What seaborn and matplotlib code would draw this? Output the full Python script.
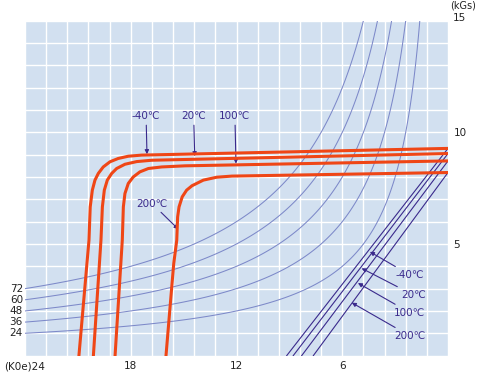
import numpy as np
import pandas as pd
import matplotlib.pyplot as plt
import seaborn as sns

# demagnetization curves, H in kOe (axis runs 24 -> 0), B in kGs
temps = ['-40℃', '20℃', '100℃', '200℃']
h_m40 = [20.94, 20.37, 20.30, 20.18, 20.03, 19.84, 19.56, 19.18, 18.71, 18.14, 17.38, 0.0]
b_m40 = [0.00, 5.17, 6.66, 7.41, 7.86, 8.16, 8.45, 8.68, 8.83, 8.93, 8.98, 9.28]
h_20 = [20.12, 19.69, 19.61, 19.50, 19.33, 19.08, 18.80, 18.33, 17.66, 16.81, 0.0]
b_20 = [0.00, 5.17, 6.66, 7.41, 7.86, 8.16, 8.38, 8.57, 8.69, 8.75, 9.05]
h_100 = [18.89, 18.48, 18.42, 18.33, 18.14, 17.86, 17.48, 17.00, 16.24, 14.92, 0.0]
b_100 = [0.00, 5.17, 6.66, 7.26, 7.71, 8.00, 8.23, 8.38, 8.45, 8.50, 8.72]
h_200 = [16.00, 15.80, 15.56, 15.39, 15.34, 15.26, 15.08, 14.83, 14.52, 13.88, 13.12, 12.26, 0.0]
b_200 = [0.00, 1.89, 4.13, 5.17, 6.21, 6.66, 7.11, 7.41, 7.61, 7.86, 7.99, 8.04, 8.20]

# normal B-H lines: Br at H=0 and intercept on H axis
br = [9.28, 9.05, 8.72, 8.20]
hc = [9.15, 8.78, 8.30, 7.64]

# energy product isolines (labels on the left)
energy = [24, 36, 48, 60, 72]

x_ticks = [24, 18, 12, 6]
x_labels = ['(K0e)24', '18', '12', '6']
y_ticks = [5, 10]

red = '#ef4616'
purple = '#3a2a8c'
bg = '#d2e0f0'

rows = []
for t, hs, bs in zip(temps, [h_m40, h_20, h_100, h_200], [b_m40, b_20, b_100, b_200]):
    for h, b in zip(hs, bs):
        rows.append({'H': h, 'B': b, 'temp': t})
df = pd.DataFrame(rows)

plt.rcParams['font.family'] = ['DejaVu Sans']
fig = plt.figure(figsize=(4.78, 3.77), dpi=100)
ax = fig.add_axes([25 / 478, 21.4 / 377, 423 / 478, 334.9 / 377])
ax.set_facecolor(bg)
ax.set_xlim(24, 0)
ax.set_ylim(0, 15)

ax.set_xticks(np.arange(0, 24.01, 1.2), minor=True)
ax.set_yticks(np.arange(0, 15.01, 1), minor=True)
ax.set_xticks(x_ticks)
ax.set_xticklabels(x_labels)
ax.set_yticks(y_ticks)
ax.set_yticklabels([str(v) for v in y_ticks])
ax.yaxis.tick_right()
ax.tick_params(which='both', length=0, labelsize=7.5, colors='#222222')
ax.tick_params(axis='x', pad=4)
ax.tick_params(axis='y', pad=4)
ax.grid(which='both', color='white', lw=1.0)
ax.set_axisbelow(True)
for s in ax.spines.values():
    s.set_visible(False)

# energy product hyperbolas drawn as isolines of H*B
hg, bg_ = np.meshgrid(np.linspace(0.05, 24, 500), np.linspace(0, 15, 500))
ax.contour(hg, bg_, hg * bg_, levels=energy, colors='#7d89c9', linewidths=0.75, zorder=2)
for e in energy:
    ax.text(24.12, e / 24, str(e), ha='right', va='center', fontsize=7.5, color='#222222', clip_on=False)

# normal curves
for b0, h0 in zip(br, hc):
    ax.plot([0, h0], [b0, 0], color=purple, lw=0.8, zorder=3)

sns.lineplot(data=df, x='H', y='B', hue='temp', palette=[red] * 4, sort=False,
             estimator=None, lw=2.2, legend=False, ax=ax, zorder=4)
ax.set_xlabel('')
ax.set_ylabel('')

arw = dict(arrowstyle='-|>', color=purple, lw=0.8, mutation_scale=6, shrinkA=1, shrinkB=0)
tkw = dict(fontsize=7.5, color=purple, ha='center', va='center')
ax.annotate('-40℃', xy=(17.08, 9.02), xytext=(17.13, 10.73), arrowprops=arw, **tkw)
ax.annotate('20℃', xy=(14.37, 8.93), xytext=(14.43, 10.73), arrowprops=arw, **tkw)
ax.annotate('100℃', xy=(12.03, 8.60), xytext=(12.09, 10.73), arrowprops=arw, **tkw)
ax.annotate('200℃', xy=(15.30, 5.66), xytext=(16.79, 6.81), arrowprops=arw, **tkw)

ax.annotate('-40℃', xy=(4.43, 4.65), xytext=(2.16, 3.61), arrowprops=arw, **tkw)
ax.annotate('20℃', xy=(4.90, 3.91), xytext=(1.95, 2.71), arrowprops=arw, **tkw)
ax.annotate('100℃', xy=(5.11, 3.25), xytext=(2.16, 1.92), arrowprops=arw, **tkw)
ax.annotate('200℃', xy=(5.46, 2.37), xytext=(2.16, 0.88), arrowprops=arw, **tkw)

ax.text(1.035, 1.046, '(kGs)', transform=ax.transAxes, ha='center', va='center', fontsize=7, color='#222222')
ax.text(1.028, 1.008, '15', transform=ax.transAxes, ha='center', va='center', fontsize=7.5, color='#222222')

fig.savefig('out.png', dpi=100)
